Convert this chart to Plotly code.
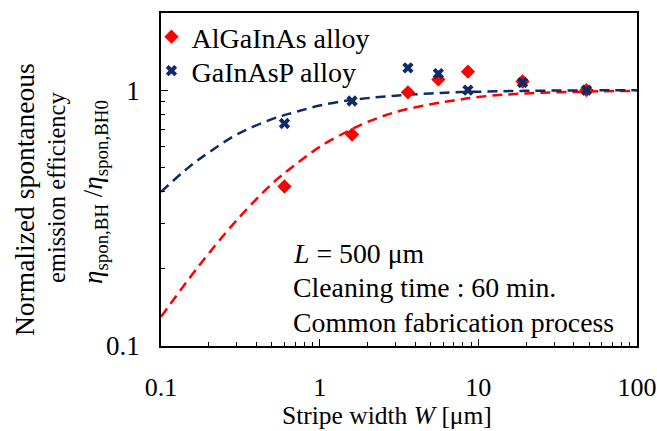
import plotly.graph_objects as go

# Measured data
widths = [0.6, 1.6, 3.6, 5.6, 8.6, 19, 48]
algainas = [0.42, 0.67, 0.98, 1.10, 1.18, 1.08, 1.00]
gainasp = [0.74, 0.906, 1.22, 1.16, 1.00, 1.07, 1.00]

# Dashed fitted curves
fit_w = [0.1, 0.15, 0.2, 0.3, 0.5, 0.7, 1, 1.5, 2, 3, 5, 7, 10, 20, 50, 100]
fit_algainas = [0.13, 0.183, 0.23, 0.31, 0.43, 0.51, 0.60, 0.69, 0.75, 0.82, 0.88, 0.91, 0.94, 0.97, 0.987, 0.993]
fit_gainasp = [0.40, 0.50, 0.57, 0.67, 0.77, 0.82, 0.87, 0.91, 0.93, 0.95, 0.97, 0.98, 0.985, 0.993, 0.997, 0.998]

RED = "#FF0000"
NAVY = "#0F2A66"
FONT = "Liberation Serif, Times New Roman, serif"

fig = go.Figure()
fig.add_trace(go.Scatter(x=fit_w, y=fit_algainas, mode="lines", line_shape="spline",
                         line=dict(color=RED, width=2.5, dash="10px,6px"), showlegend=False))
fig.add_trace(go.Scatter(x=fit_w, y=fit_gainasp, mode="lines", line_shape="spline",
                         line=dict(color=NAVY, width=2.5, dash="10px,6px"), showlegend=False))
fig.add_trace(go.Scatter(x=widths, y=algainas, mode="markers", name="AlGaInAs alloy",
                         marker=dict(symbol="diamond", size=11, color=RED), legend="legend"))
fig.add_trace(go.Scatter(x=widths, y=gainasp, mode="markers", name="GaInAsP alloy",
                         marker=dict(symbol="x", size=10, color=NAVY), legend="legend2"))

axis_common = dict(showline=True, linecolor="black", linewidth=1.5, mirror=True,
                   showgrid=False, zeroline=False, ticks="inside", ticklen=7,
                   tickcolor="black", tickwidth=1.2, automargin=False,
                   ticklabeloverflow="allow")

fig.update_xaxes(type="log", range=[-1, 2], tickvals=[0.1, 1, 10, 100],
                 ticktext=["0.1", "1", "10", "100"], ticklabelstandoff=17,
                 tickfont=dict(family=FONT, size=26, color="black"),
                 minor=dict(ticks="inside", ticklen=4, tickcolor="black", dtick="D1", showgrid=False),
                 **axis_common)
fig.update_yaxes(type="log", range=[-1, 0.30103], tickvals=[0.1, 1],
                 ticktext=["0.1", "1"], ticklabelstandoff=14,
                 tickfont=dict(family=FONT, size=27, color="black"),
                 minor=dict(ticks="inside", ticklen=4, tickcolor="black", dtick="D1", showgrid=False),
                 **axis_common)

L, R, T, B = 161, 20, 13, 85
W, H = 657, 431
pw = W - L - R
ph = H - T - B


def px_x(px):
    return (px - L) / pw


def px_y(py):
    return (H - B - py) / ph


# X-axis title
fig.add_annotation(text="Stripe width <i>W</i> [μm]", xref="paper", yref="paper",
                   x=px_x(387), y=px_y(415), showarrow=False,
                   xanchor="center", yanchor="middle",
                   font=dict(family=FONT, size=25.5, color="black"))

# Y-axis title lines as rotated annotations
ylines = [
    ("Normalized spontaneous", 24, 200, 27.5),
    ("emission efficiency", 56, 188, 24.5),
    ("<i>η</i><sub>spon,BH</sub> /<i>η</i><sub>spon,BH0</sub>", 95, 192, 27),
]
for txt, px, py, fs in ylines:
    fig.add_annotation(text=txt, xref="paper", yref="paper",
                       x=px_x(px), y=px_y(py), textangle=-90,
                       showarrow=False, xanchor="center", yanchor="middle",
                       font=dict(family=FONT, size=fs, color="black"))

notes = [("<i>L</i> = 500 μm", 253), ("Cleaning time : 60 min.", 287), ("Common fabrication process", 322)]
for txt, py in notes:
    fig.add_annotation(text=txt, xref="paper", yref="paper",
                       x=px_x(291), y=px_y(py), showarrow=False,
                       xanchor="left", yanchor="middle",
                       font=dict(family=FONT, size=27.8, color="black"))

leg_common = dict(xanchor="left", yanchor="middle",
                  font=dict(family=FONT, size=28, color="black"),
                  bgcolor="rgba(0,0,0,0)", itemwidth=30, tracegroupgap=0)

fig.update_layout(
    width=W, height=H,
    font=dict(family=FONT, color="black"),
    margin=dict(l=L, r=R, t=T, b=B, autoexpand=False),
    paper_bgcolor="white", plot_bgcolor="white",
    legend=dict(x=-0.02, y=px_y(37), **leg_common),
    legend2=dict(x=-0.02, y=px_y(71), **leg_common),
    showlegend=True,
)

fig.write_html("out.html")
